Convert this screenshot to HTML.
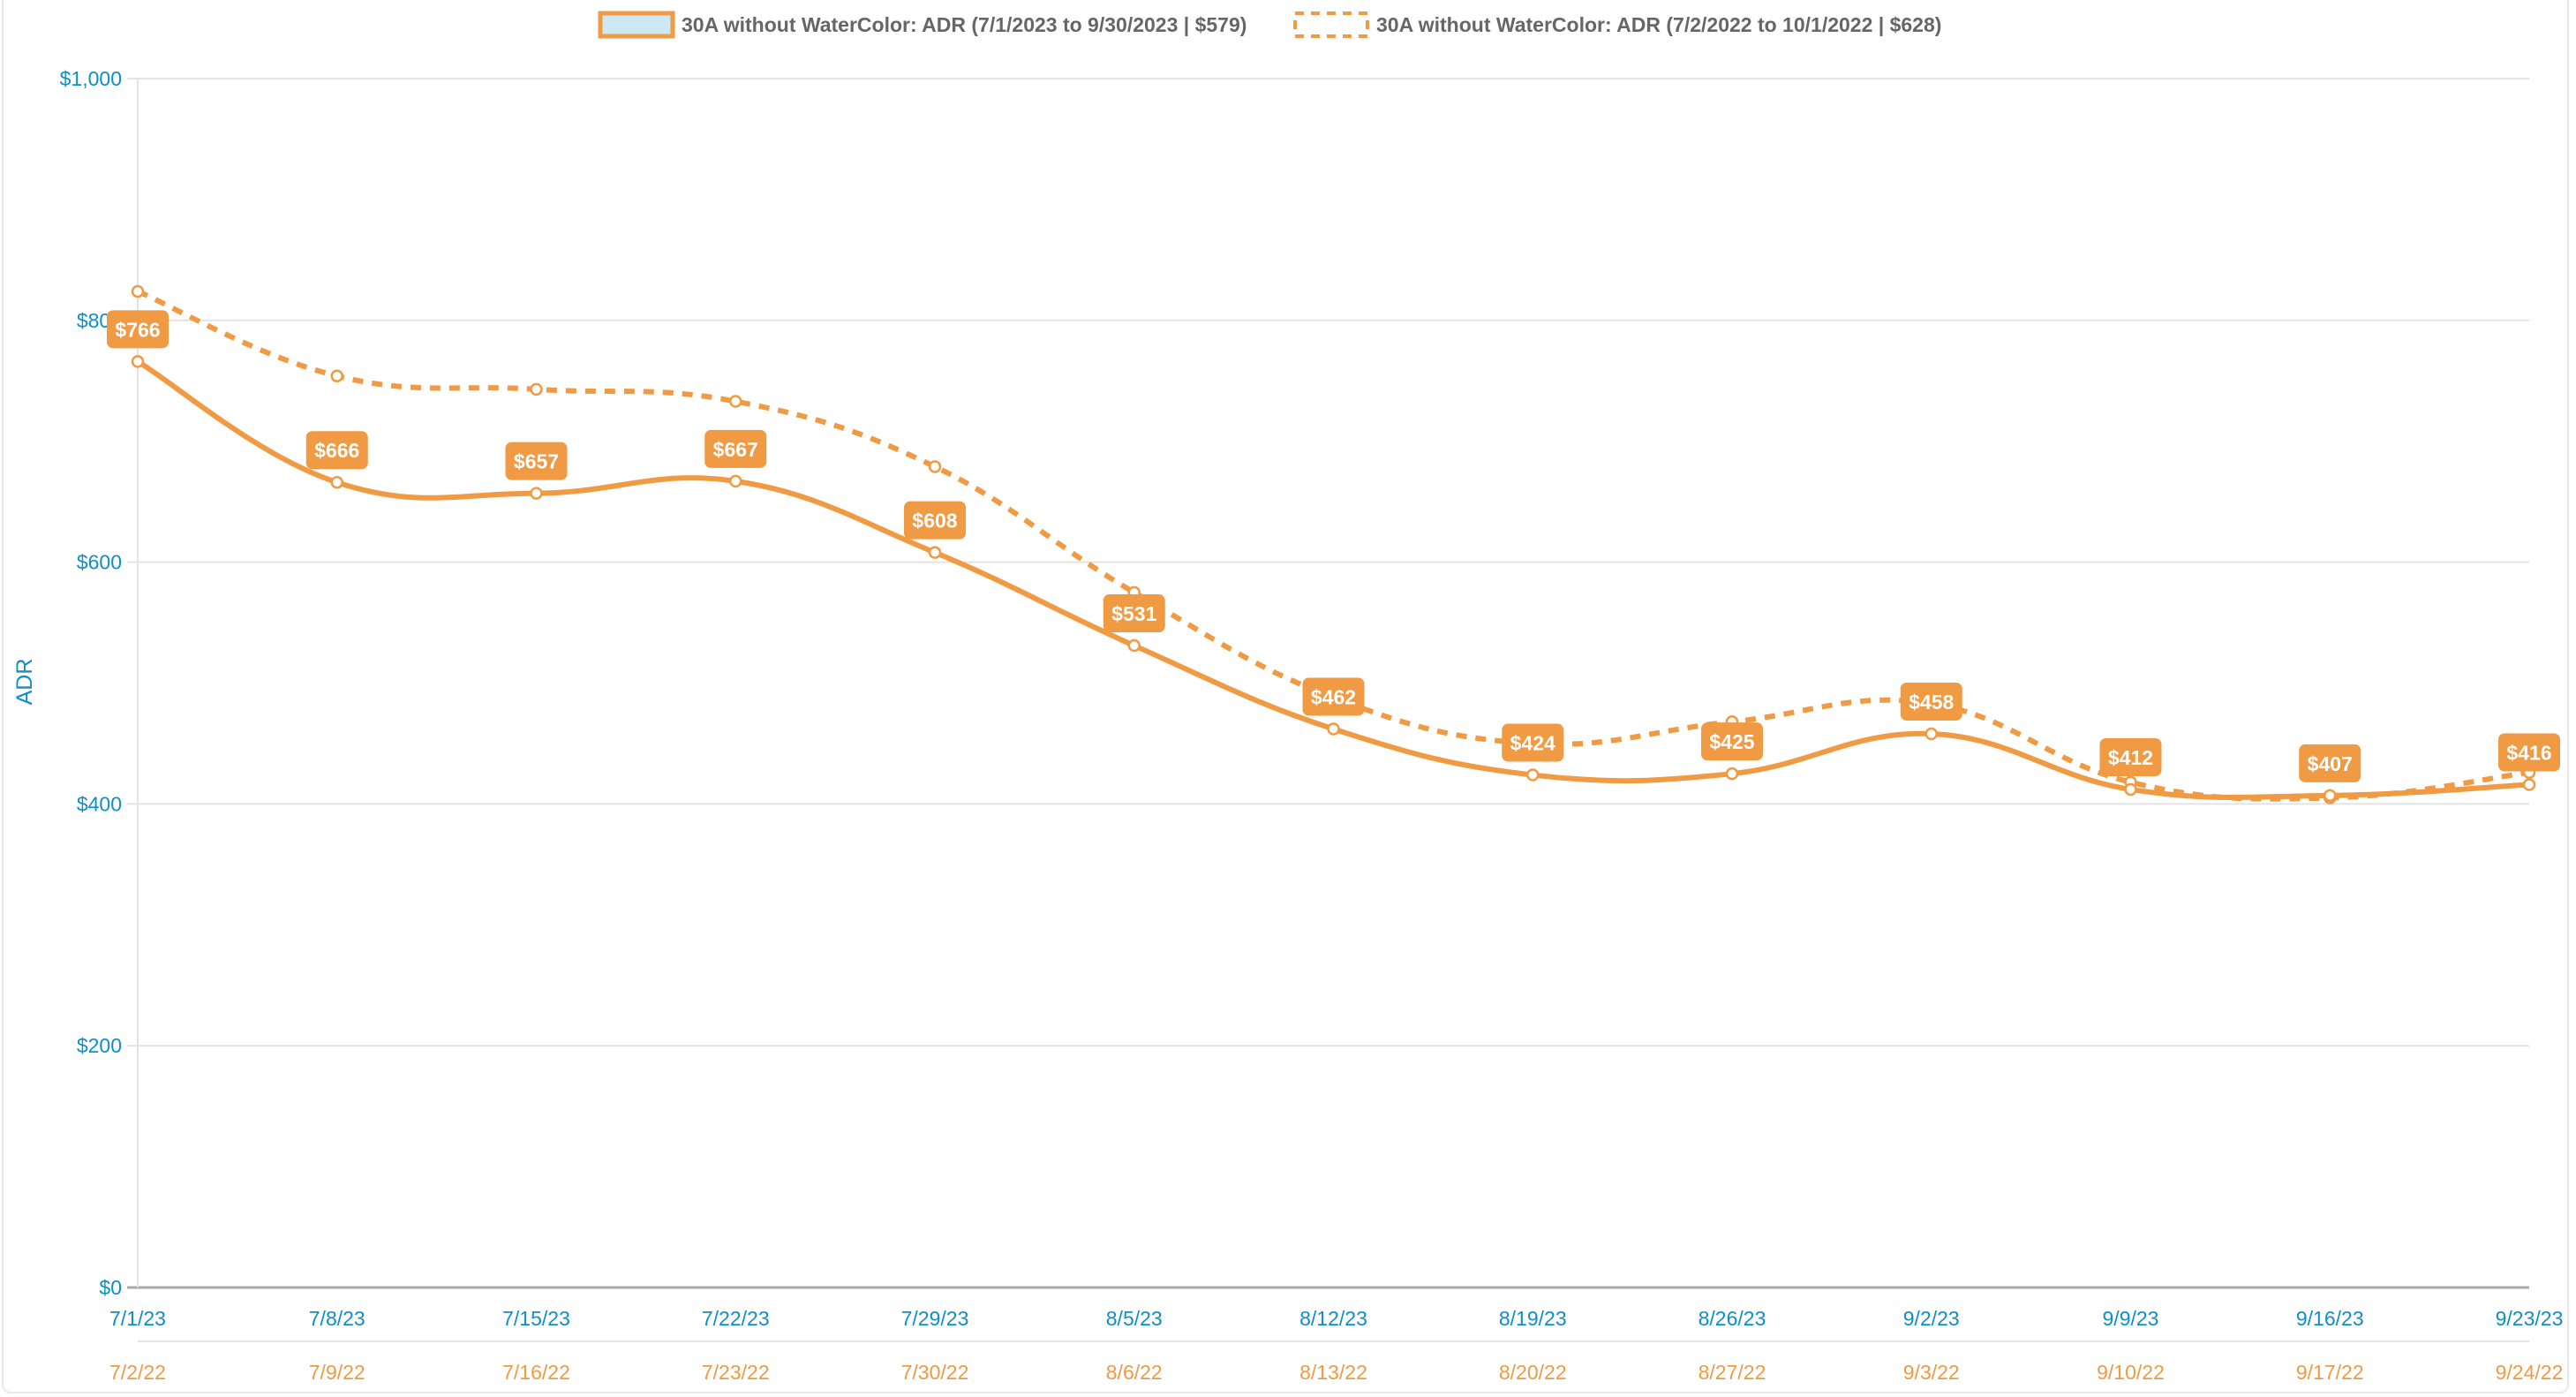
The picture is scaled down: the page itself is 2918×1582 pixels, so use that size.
<!DOCTYPE html>
<html><head><meta charset="utf-8"><style>
html,body{margin:0;padding:0;background:#fff;}
body{width:2918px;height:1582px;overflow:hidden;font-family:"Liberation Sans",sans-serif;}
#card{position:absolute;left:2px;top:0;width:2908px;height:1578px;border:2px solid #e6e8ec;border-top:none;border-radius:0 0 10px 10px;box-sizing:border-box;}
</style></head><body>
<div id="card"></div>
<svg id="chart" width="2918" height="1582" style="position:absolute;left:0;top:0"></svg>
<script>
const categories2023 = ["7/1/23","7/8/23","7/15/23","7/22/23","7/29/23","8/5/23","8/12/23","8/19/23","8/26/23","9/2/23","9/9/23","9/16/23","9/23/23"];
const categories2022 = ["7/2/22","7/9/22","7/16/22","7/23/22","7/30/22","8/6/22","8/13/22","8/20/22","8/27/22","9/3/22","9/10/22","9/17/22","9/24/22"];
const adr2023 = [766,666,657,667,608,531,462,424,425,458,412,407,416];
const adr2022 = [824,754,743,733,679,575,488,450,468,483,418,405,426];
const yTicks = [0,200,400,600,800,1000];
const yTickLabels = ["$0","$200","$400","$600","$800","$1,000"];

const NS="http://www.w3.org/2000/svg";
const svg=document.getElementById('chart');
const L=156,R=2865,T=89,B=1458,YMAX=1000;
const ORANGE="#f09a44",BLUE="#0e8fc8";
const xs=i=>L+(R-L)*i/(categories2023.length-1);
const ys=v=>B-(B-T)*v/YMAX;
function mk(tag,attrs,parent){const e=document.createElementNS(NS,tag);for(const k in attrs)e.setAttribute(k,attrs[k]);(parent||svg).appendChild(e);return e;}

// gridlines & y ticks
yTicks.forEach((t,i)=>{
  const g=mk('line',{x1:L-12,x2:R,y1:ys(t),y2:ys(t),stroke:t===0?'#aaaaaa':'#e3e3e3','stroke-width':t===0?3:2});
  
  
  const tx=mk('text',{x:L-18,y:ys(t)+8,'text-anchor':'end','font-size':23,fill:BLUE});
  tx.textContent=yTickLabels[i];
  
  
});
const va=mk('line',{x1:L,x2:L,y1:T,y2:B,stroke:'#e3e3e3','stroke-width':2});


const sep=mk('line',{x1:L,x2:R,y1:1519,y2:1519,stroke:'#e3e3e3','stroke-width':2});



// y axis title
const yt=mk('text',{x:0,y:0,transform:'translate(36,772) rotate(-90)','text-anchor':'middle','font-size':25,fill:BLUE});
yt.textContent='ADR';



// x labels
categories2023.forEach((c,i)=>{
  const a=mk('text',{x:xs(i),y:1501,'text-anchor':'middle','font-size':23,fill:BLUE});
  a.textContent=c;
  
  
  const b=mk('text',{x:xs(i),y:1562,'text-anchor':'middle','font-size':23,fill:ORANGE});
  b.textContent=categories2022[i];
  
  
});

function smoothPath(vals){
  const p=vals.map((v,i)=>[xs(i),ys(v)]);const t=0.4;
  let d=`M${p[0][0]},${p[0][1]}`;
  for(let i=0;i<p.length-1;i++){
    const p0=p[i-1]||p[i],p1=p[i],p2=p[i+1],p3=p[i+2]||p[i+1];
    const c1=[p1[0]+(p2[0]-p0[0])*t/2,p1[1]+(p2[1]-p0[1])*t/2];
    const c2=[p2[0]-(p3[0]-p1[0])*t/2,p2[1]-(p3[1]-p1[1])*t/2];
    d+=` C${c1[0]},${c1[1]} ${c2[0]},${c2[1]} ${p2[0]},${p2[1]}`;
  }
  return d;
}
const dl=mk('path',{d:smoothPath(adr2022),fill:'none',stroke:ORANGE,'stroke-width':6,'stroke-dasharray':'12 10'});


const sl=mk('path',{d:smoothPath(adr2023),fill:'none',stroke:ORANGE,'stroke-width':6});


adr2022.forEach((v,i)=>{
  const c=mk('circle',{cx:xs(i),cy:ys(v),r:6,fill:'#fff',stroke:ORANGE,'stroke-width':2.5});
  
  
});
adr2023.forEach((v,i)=>{
  const c=mk('circle',{cx:xs(i),cy:ys(v),r:6,fill:'#fff',stroke:ORANGE,'stroke-width':2.5});
  
  
});
adr2023.forEach((v,i)=>{
  const cx=xs(i),cy=ys(v)-36;
  const r=mk('rect',{x:cx-35,y:cy-22,width:70,height:43,rx:7,fill:ORANGE});
  
  
  const t=mk('text',{x:cx,y:cy+8,'text-anchor':'middle','font-size':23,'font-weight':'bold',fill:'#fff'});
  t.textContent='$'+v;
  
  
});

// legend
const l1=mk('rect',{x:680,y:15,width:82,height:26,fill:'#cde8f2',stroke:ORANGE,'stroke-width':5});


const lt1=mk('text',{x:772,y:36,'font-size':23,'font-weight':'bold',fill:'#666'});
lt1.textContent='30A without WaterColor: ADR (7/1/2023 to 9/30/2023 | $579)';


const l2=mk('rect',{x:1467,y:15,width:82,height:26,fill:'none',stroke:ORANGE,'stroke-width':4,'stroke-dasharray':'10 8'});


const lt2=mk('text',{x:1559,y:36,'font-size':23,'font-weight':'bold',fill:'#666'});
lt2.textContent='30A without WaterColor: ADR (7/2/2022 to 10/1/2022 | $628)';


</script>
</body></html>
